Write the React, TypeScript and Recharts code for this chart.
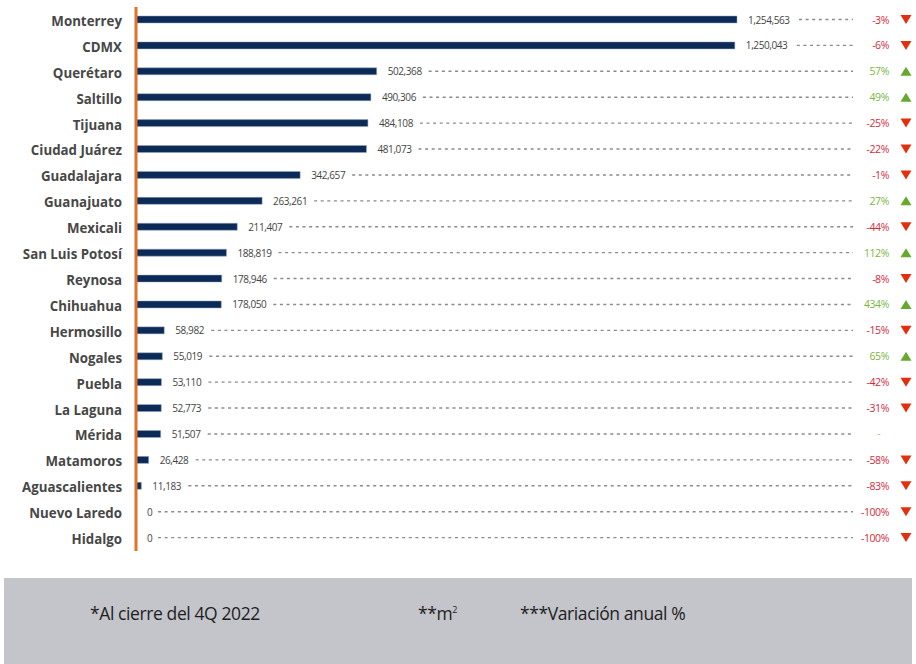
import React from "react";
import { Bar, BarChart, XAxis, YAxis, LabelList, Rectangle } from "recharts";

const CITIES = [
  "Monterrey", "CDMX", "Querétaro", "Saltillo", "Tijuana", "Ciudad Juárez",
  "Guadalajara", "Guanajuato", "Mexicali", "San Luis Potosí", "Reynosa",
  "Chihuahua", "Hermosillo", "Nogales", "Puebla", "La Laguna", "Mérida",
  "Matamoros", "Aguascalientes", "Nuevo Laredo", "Hidalgo",
];

const ABSORPTION = [
  1254563, 1250043, 502368, 490306, 484108, 481073, 342657, 263261, 211407,
  188819, 178946, 178050, 58982, 55019, 53110, 52773, 51507, 26428, 11183, 0, 0,
];

// variación anual %, null = sin dato
const CHANGE: (number | null)[] = [
  -3, -6, 57, 49, -25, -22, -1, 27, -44, 112, -8, 434, -15, 65, -42, -31, null,
  -58, -83, -100, -100,
];

const FOOTNOTES = ["*Al cierre del 4Q 2022", "**m", "***Variación anual %"];

const data = CITIES.map((name, i) => ({ name, value: ABSORPTION[i], change: CHANGE[i] }));

const NAVY = "#0b2a58";
const ORANGE = "#e0732a";
const RED = "#d42a3c";
const GREEN = "#7bb642";
const TRI_RED = "#e2300f";
const TRI_GREEN = "#66a92c";

const DASH_END = 853;
const PCT_END = 889;
const TRI_X = 906;

const fmt = (v: number) => v.toLocaleString("en-US");

function CityTick(props: any) {
  const { x, y, payload } = props;
  return (
    <text
      x={x - 6}
      y={y + 1}
      textAnchor="end"
      dominantBaseline="central"
      fontFamily="'Open Sans', sans-serif"
      fontWeight={700}
      fontSize={13.3}
      fill="#474747"
    >
      {payload.value}
    </text>
  );
}

// zero values still need a slot for the label, but no visible bar
function BarShape(props: any) {
  if (!props.value) return null;
  return <Rectangle {...props} />;
}

function RowLabel(props: any) {
  const { x, y, height, index } = props;
  const v = ABSORPTION[index];
  const c = CHANGE[index];
  const width = v ? props.width : 0;
  const cy = y + height / 2;
  const tx = x + width + 11;
  const label = fmt(v);
  const dashStart = tx + label.length * 5 + 6;
  const up = c !== null && c > 0;
  return (
    <g>
      <text
        x={tx}
        y={cy}
        dominantBaseline="central"
        fontFamily="'Open Sans', sans-serif"
        fontSize={10}
        letterSpacing={-0.4}
        fill="#444"
      >
        {label}
      </text>
      <line x1={dashStart} x2={DASH_END} y1={cy} y2={cy} stroke="#8a8a8a" strokeWidth={1.4} strokeDasharray="3 3.6" />
      {c === null ? (
        <text x={PCT_END - 10} y={cy} textAnchor="middle" dominantBaseline="central" fontSize={9} fill={GREEN}>
          -
        </text>
      ) : (
        <>
          <text
            x={PCT_END}
            y={cy}
            textAnchor="end"
            dominantBaseline="central"
            fontFamily="'Open Sans', sans-serif"
            fontSize={10.5}
            letterSpacing={-0.4}
            fill={up ? GREEN : RED}
          >
            {c}%
          </text>
          {up ? (
            <polygon points={`${TRI_X - 5.5},${cy + 4.5} ${TRI_X + 5.5},${cy + 4.5} ${TRI_X},${cy - 4.5}`} fill={TRI_GREEN} />
          ) : (
            <polygon points={`${TRI_X - 5.5},${cy - 4.5} ${TRI_X + 5.5},${cy - 4.5} ${TRI_X},${cy + 4.5}`} fill={TRI_RED} />
          )}
        </>
      )}
    </g>
  );
}

export default function App() {
  return (
    <div style={{ position: "absolute", left: 0, top: 0, width: 916, height: 664, background: "#fff", overflow: "hidden" }}>
      <BarChart
        width={916}
        height={560}
        data={data}
        layout="vertical"
        margin={{ top: 7, right: 179, bottom: 9, left: 0 }}
        barCategoryGap={0}
      >
        <XAxis type="number" domain={[0, ABSORPTION[0]]} hide />
        <YAxis
          type="category"
          dataKey="name"
          width={136}
          tickLine={false}
          axisLine={{ stroke: ORANGE, strokeWidth: 3 }}
          interval={0}
          tick={<CityTick />}
        />
        <Bar
          dataKey="value"
          fill={NAVY}
          stroke="#9aa8bd"
          strokeWidth={0.5}
          barSize={7}
          minPointSize={1}
          shape={<BarShape />}
          isAnimationActive={false}
        >
          <LabelList dataKey="value" content={<RowLabel />} />
        </Bar>
      </BarChart>
      <div
        style={{
          position: "absolute",
          left: 4,
          top: 578,
          width: 908,
          height: 86,
          background: "#c4c5ca",
          fontFamily: "'Open Sans', sans-serif",
          fontSize: 17.5,
          letterSpacing: -0.4,
          color: "#1e1e1e",
        }}
      >
        <span style={{ position: "absolute", left: 86, top: 23 }}>{FOOTNOTES[0]}</span>
        <span style={{ position: "absolute", left: 414, top: 23 }}>
          {FOOTNOTES[1]}
          <sup style={{ fontSize: 9 }}>2</sup>
        </span>
        <span style={{ position: "absolute", left: 516, top: 23 }}>{FOOTNOTES[2]}</span>
      </div>
    </div>
  );
}
